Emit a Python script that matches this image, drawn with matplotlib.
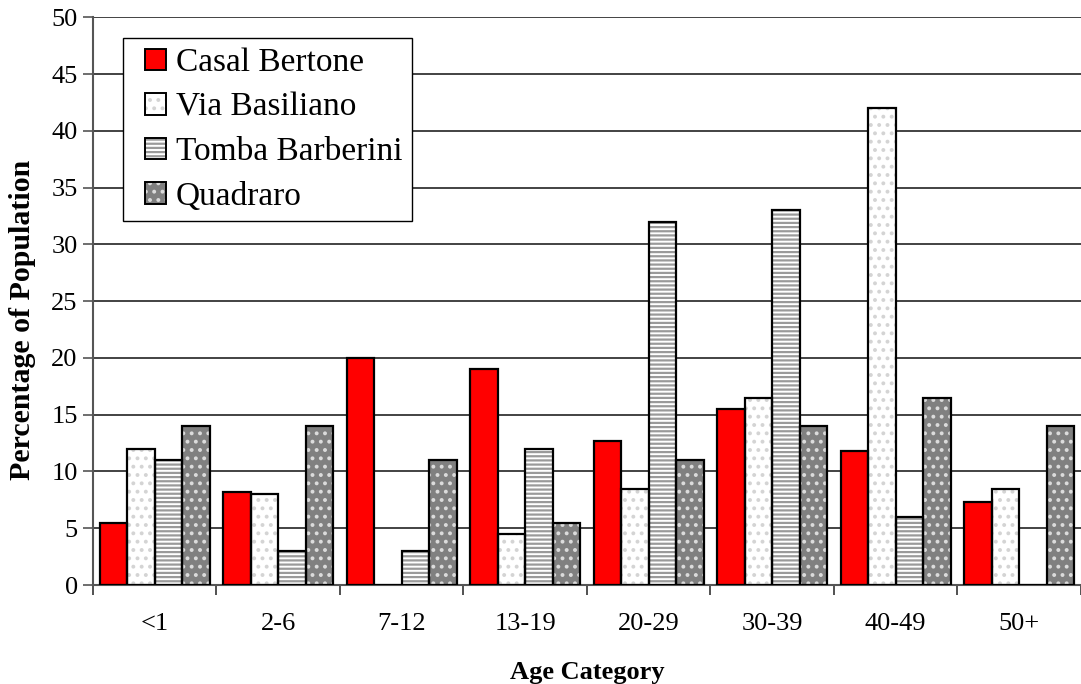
import numpy as np
import matplotlib.pyplot as plt
from matplotlib.patches import Patch
from matplotlib.legend_handler import HandlerTuple

categories = ['<1', '2-6', '7-12', '13-19', '20-29', '30-39', '40-49', '50+']
casal_bertone = [5.5, 8.2, 20, 19, 12.7, 15.5, 11.8, 7.3]
via_basiliano = [12, 8, 0, 4.5, 8.5, 16.5, 42, 8.5]
tomba_barberini = [11, 3, 3, 12, 32, 33, 6, 0]
quadraro = [14, 14, 11, 5.5, 11, 14, 16.5, 14]

series = [
  ('Casal Bertone', casal_bertone, '#ff0000', None, None),
  ('Via Basiliano', via_basiliano, 'white', '..', '#d4d4d4'),
  ('Tomba Barberini', tomba_barberini, 'white', '----', '#9a9a9a'),
  ('Quadraro', quadraro, '#808080', '..', '#dcdcdc'),
]


class ShiftedTuple(HandlerTuple):
  # push the legend swatch right, to leave a wider left margin in the box
  def create_artists(self, legend, orig_handle, xdescent, ydescent, width,
                     height, fontsize, trans):
    shift = 0.38 * fontsize
    return super().create_artists(legend, orig_handle, xdescent - shift,
                                  ydescent, width - shift, height, fontsize,
                                  trans)


plt.rcParams['font.family'] = ['Liberation Serif', 'DejaVu Serif']
plt.rcParams['hatch.linewidth'] = 1.6

fig = plt.figure(figsize=(10.81, 6.84), dpi=100)
ax = fig.add_axes([0.086, 0.1447, 0.914, 0.830])

x = np.arange(len(categories))
w = 0.2227
handles = []
for i, (name, vals, fc, hatch, hc) in enumerate(series):
  pos = x + (i - 1.5) * w
  ax.bar(pos, vals, w, color=fc, edgecolor='none', zorder=2)
  h = [Patch(facecolor=fc, edgecolor='none')]
  if hatch:
    ax.bar(pos, vals, w, facecolor='none', edgecolor=hc, hatch=hatch,
           linewidth=0, zorder=3)
    h.append(Patch(facecolor='none', edgecolor=hc, hatch=hatch, linewidth=0))
  ax.bar(pos, vals, w, facecolor='none', edgecolor='black', linewidth=1.6,
         zorder=4)
  h.append(Patch(facecolor='none', edgecolor='black', linewidth=1.4))
  handles.append(tuple(h))

leg = ax.legend(handles, [s[0] for s in series], loc='upper left',
                bbox_to_anchor=(0.0304, 0.963), borderaxespad=0,
                fontsize=24, frameon=True,
                fancybox=False, edgecolor='black', framealpha=1,
                handlelength=1.01, handleheight=0.63, handletextpad=0.3,
                labelspacing=0.42, borderpad=0.28,
                handler_map={tuple: ShiftedTuple(ndivide=1, pad=0)})
leg.get_frame().set_linewidth(1.0)
leg.set_zorder(10)

ax.set_xlim(-0.5, len(categories) - 0.5)
ax.set_ylim(0, 50)
ax.set_yticks(np.arange(0, 51, 5))
ax.yaxis.grid(True, color='#222222', linewidth=1.2, zorder=0)
ax.set_axisbelow(True)

ax.set_xticks(x)
ax.set_xticklabels(categories)
ax.set_xticks(np.arange(-0.5, len(categories)), minor=True)
ax.tick_params(axis='x', which='major', length=0, pad=20, labelsize=19)
ax.tick_params(axis='x', which='minor', length=7, width=1.2, color='#333333')
ax.tick_params(axis='y', length=7, width=1.2, color='#555555', labelsize=19,
               pad=4)

for s in ['top', 'right']:
  ax.spines[s].set_visible(False)
ax.spines['left'].set_color('#555555')
ax.spines['left'].set_linewidth(1.5)
ax.spines['bottom'].set_color('#555555')
ax.spines['bottom'].set_linewidth(1.5)

ax.set_xlabel('Age Category', fontsize=19, fontweight='bold', labelpad=19)
ax.set_ylabel('Percentage of Population', fontsize=21.5, fontweight='bold')
ax.yaxis.set_label_coords(-0.058, 0.4665)

plt.savefig('out.png', dpi=100)
